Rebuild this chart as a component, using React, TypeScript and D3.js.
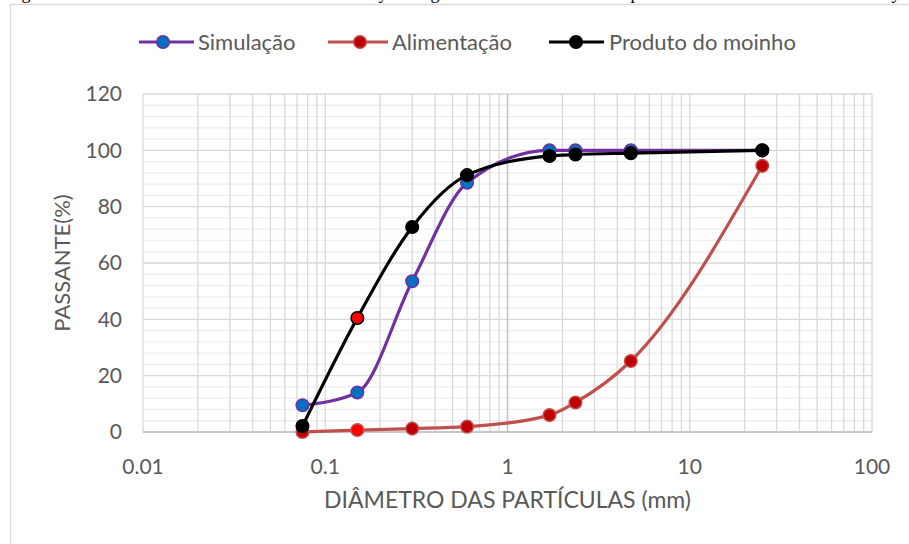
import React from "react";
import * as d3 from "d3";

const sizes = [0.075, 0.15, 0.3, 0.6, 1.7, 2.36, 4.75, 25];
const simulacao = [9.5, 14, 53.5, 88.5, 100, 100, 100, 100];
const alimentacao = [0, 0.7, 1.2, 1.9, 6, 10.5, 25.2, 94.5];
const produto = [2.1, 40.5, 72.8, 91.2, 98, 98.5, 99, 100];
const seriesNames = ["Simulação", "Alimentação", "Produto do moinho"];
const xTicks = [0.01, 0.1, 1, 10, 100];
const xTickLabels = ["0.01", "0.1", "1", "10", "100"];
const yTicks = [0, 20, 40, 60, 80, 100, 120];
const xTitle = "DIÂMETRO DAS PARTÍCULAS (mm)";
const yTitle = "PASSANTE(%)";
const captionGlyphs = [
  { ch: "g", x: 26 },
  { ch: "y", x: 383 },
  { ch: "g", x: 435 },
  { ch: "p", x: 635 },
  { ch: "y", x: 896 },
];

const W = 909;
const H = 544;
const PL = 143, PR = 872, PT = 94, PB = 432;
const FONT = "Lato, 'Open Sans', sans-serif";
const TXT = "#595959";

export default function App() {
  const x = d3.scaleLog().domain([0.01, 100]).range([PL, PR]);
  const y = d3.scaleLinear().domain([0, 120]).range([PB, PT]);

  const minorX: number[] = [];
  for (let d = 0.01; d < 100; d *= 10) {
    for (let k = 2; k <= 9; k++) minorX.push(d * k);
  }
  const minorY: number[] = [];
  for (let v = 4; v < 120; v += 4) if (v % 20 !== 0) minorY.push(v);

  const line = d3
    .line<number>()
    .x((_, i) => x(sizes[i]))
    .y((v) => y(v))
    .curve(d3.curveMonotoneX);

  const series = [
    { name: seriesNames[0], values: simulacao, stroke: "#7030a0", fill: "#0070c0", mstroke: "#7030a0", hi: -1, hiFill: "" },
    { name: seriesNames[1], values: alimentacao, stroke: "#c0504d", fill: "#c00000", mstroke: "#c0504d", hi: 1, hiFill: "#ff0000" },
    { name: seriesNames[2], values: produto, stroke: "#000000", fill: "#000000", mstroke: "#000000", hi: 1, hiFill: "#ff0000" },
  ];

  const legend = [
    { x1: 139, x2: 194, mx: 163, tx: 198 },
    { x1: 328, x2: 388, mx: 360, tx: 392 },
    { x1: 549, x2: 604, mx: 576, tx: 609 },
  ];
  const legY = 42;

  return (
    <svg width={W} height={H} style={{ position: "absolute", left: 0, top: 0, background: "#fff" }}>
      <rect x={0} y={0} width={W} height={H} fill="#fff" />
      {captionGlyphs.map((g, i) => (
        <text key={i} x={g.x} y={-1} textAnchor="middle" fontFamily="'Liberation Serif', serif" fontSize={18} fill="#000">
          {g.ch}
        </text>
      ))}
      <rect x={10.5} y={4.5} width={W + 10} height={H + 10} fill="none" stroke="#d9d9d9" strokeWidth={1.3} />

      {/* grid */}
      {minorY.map((v) => (
        <line key={"my" + v} x1={PL} x2={PR} y1={y(v)} y2={y(v)} stroke="#eeeeee" strokeWidth={1.3} />
      ))}
      {minorX.map((v, i) => (
        <line key={"mx" + i} x1={x(v)} x2={x(v)} y1={PT} y2={PB} stroke="#d9d9d9" strokeWidth={1.3} />
      ))}
      {yTicks.map((v) => (
        <line key={"gy" + v} x1={PL} x2={PR} y1={y(v)} y2={y(v)} stroke="#d9d9d9" strokeWidth={1.3} />
      ))}
      {xTicks.map((v) => (
        <line key={"gx" + v} x1={x(v)} x2={x(v)} y1={PT} y2={PB} stroke="#d9d9d9" strokeWidth={1.3} />
      ))}
      <line x1={x(1)} x2={x(1)} y1={PT} y2={PB} stroke="#bfbfbf" strokeWidth={1.3} />
      <line x1={PL} x2={PR} y1={PB} y2={PB} stroke="#bfbfbf" strokeWidth={1.3} />

      {/* tick labels */}
      {yTicks.map((v) => (
        <text key={"ty" + v} x={122} y={y(v)} dy="0.35em" textAnchor="end" fontFamily={FONT} fontSize={21} fill={TXT}>
          {v}
        </text>
      ))}
      {xTicks.map((v, i) => (
        <text key={"tx" + v} x={x(v)} y={467} dy="0.35em" textAnchor="middle" fontFamily={FONT} fontSize={21} fill={TXT}>
          {xTickLabels[i]}
        </text>
      ))}
      <text x={(PL + PR) / 2} y={500} dy="0.35em" textAnchor="middle" fontFamily={FONT} fontSize={23} fill={TXT}>
        {xTitle}
      </text>
      <text transform={`translate(62,${(PT + PB) / 2}) rotate(-90)`} dy="0.35em" textAnchor="middle" fontFamily={FONT} fontSize={22} fill={TXT}>
        {yTitle}
      </text>

      {/* series */}
      {series.map((s, si) => (
        <g key={"s" + si}>
          <path d={line(s.values) || ""} fill="none" stroke={s.stroke} strokeWidth={3.2} strokeLinejoin="round" />
          {s.values.map((v, i) => (
            <circle key={i} cx={x(sizes[i])} cy={y(v)} r={6.3} fill={i === s.hi ? s.hiFill : s.fill} stroke={s.mstroke} strokeWidth={1.5} />
          ))}
        </g>
      ))}

      {/* legend */}
      {series.map((s, i) => (
        <g key={"l" + i}>
          <line x1={legend[i].x1} x2={legend[i].x2} y1={legY} y2={legY} stroke={s.stroke} strokeWidth={3.2} />
          <circle cx={legend[i].mx} cy={legY} r={6.3} fill={s.fill} stroke={s.mstroke} strokeWidth={1.5} />
          <text x={legend[i].tx} y={legY} dy="0.35em" fontFamily={FONT} fontSize={22} fill={TXT}>
            {s.name}
          </text>
        </g>
      ))}
    </svg>
  );
}
